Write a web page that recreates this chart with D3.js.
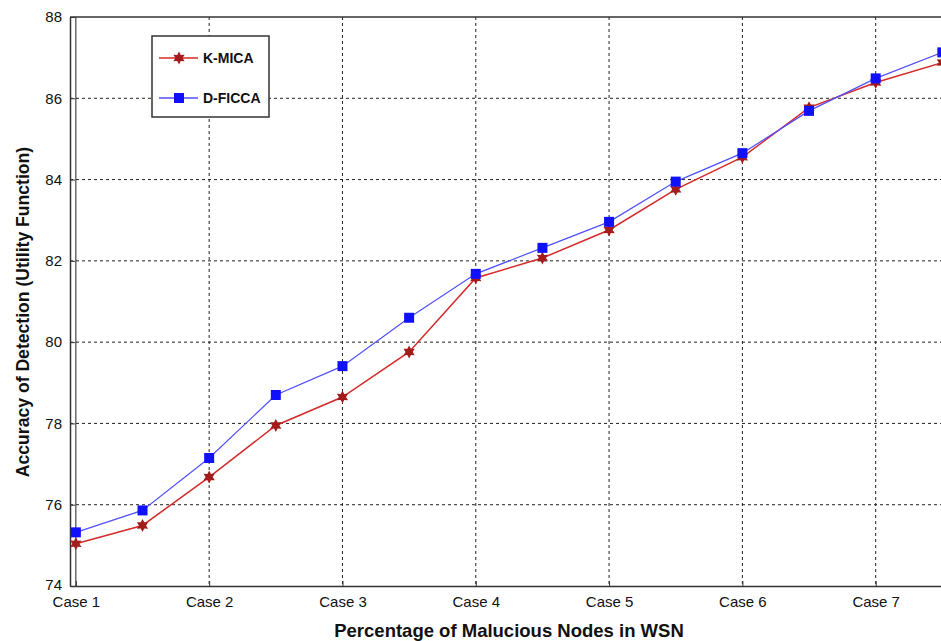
<!DOCTYPE html>
<html>
<head>
<meta charset="utf-8">
<script src="https://cdn.jsdelivr.net/npm/d3@7"></script>
<style>
  body { margin: 0; background: #fff; }
  svg { display: block; font-family: "Liberation Sans", Arial, sans-serif; }
</style>
</head>
<body>
<div id="chart"></div>
<script>
var cases = [1, 1.5, 2, 2.5, 3, 3.5, 4, 4.5, 5, 5.5, 6, 6.5, 7, 7.5];
var kmica = [75.04, 75.49, 76.68, 77.95, 78.65, 79.76, 81.58, 82.07, 82.76, 83.76, 84.55, 85.77, 86.39, 86.88];
var dficca = [75.32, 75.86, 77.15, 78.70, 79.41, 80.60, 81.68, 82.32, 82.96, 83.95, 84.65, 85.69, 86.49, 87.13];
var xTicks = [1, 2, 3, 4, 5, 6, 7];
var xTickLabels = ["Case 1", "Case 2", "Case 3", "Case 4", "Case 5", "Case 6", "Case 7"];
var yTicks = [74, 76, 78, 80, 82, 84, 86, 88];

var width = 941,
  height = 641,
  margin = {left: 70, right: -4, top: 17, bottom: 55},
  svg = d3.select("#chart")
    .append("svg")
    .attr("width", width)
    .attr("height", height),
  chart = svg.append("g")
    .attr("transform", "translate(" + margin.left + "," + margin.top + ")"),
  w = width - margin.left - margin.right,
  h = height - margin.top - margin.bottom;

// x runs a bit before Case 1, right end is cut by the picture
var xScale = d3.scaleLinear().domain([0.956, 7.52]).range([0, w]),
  yScale = d3.scaleLinear().domain([74, 88]).range([h, 0]);

// grid
chart.append("g").selectAll("line")
  .data(yTicks.slice(1, -1))
  .enter().append("line")
  .attr("x1", 0).attr("x2", w)
  .attr("y1", function (d) { return yScale(d); })
  .attr("y2", function (d) { return yScale(d); })
  .attr("stroke", "#222").attr("stroke-width", 1)
  .attr("stroke-dasharray", "3,3");

chart.append("g").selectAll("line")
  .data(xTicks)
  .enter().append("line")
  .attr("y1", 0).attr("y2", h)
  .attr("x1", function (d) { return xScale(d); })
  .attr("x2", function (d) { return xScale(d); })
  .attr("stroke", "#222").attr("stroke-width", 1)
  .attr("stroke-dasharray", function (d) { return d == 1 ? null : "3,3"; });

// axes
var xAxis = chart.append("g")
  .attr("transform", "translate(0," + h + ")")
  .call(d3.axisBottom(xScale).tickValues(xTicks)
    .tickFormat(function (d, i) { return xTickLabels[i]; })
    .tickSizeInner(-5).tickSizeOuter(0).tickPadding(10));
var yAxis = chart.append("g")
  .call(d3.axisLeft(yScale).tickValues(yTicks)
    .tickSizeInner(-5).tickSizeOuter(0).tickPadding(8));

[xAxis, yAxis].forEach(function (a) {
  a.select(".domain").attr("stroke", "#333").attr("stroke-width", 1.5);
  a.selectAll(".tick line").attr("stroke", "#333");
  a.selectAll("text").attr("font-size", 15).attr("fill", "#111")
    .attr("font-family", "Liberation Sans, Arial, sans-serif");
});
// lowest y label sits a touch higher so it clears "Case 1"
yAxis.selectAll(".tick text").filter(function (d) { return d == 74; }).attr("dy", "0.2em");

// top frame
chart.append("line")
  .attr("x1", 0).attr("x2", w).attr("y1", 0).attr("y2", 0)
  .attr("stroke", "#333").attr("stroke-width", 1.5);

// hexagram marker
function hexagram(r) {
  var pts = [];
  for (var i = 0; i < 12; i++) {
    var a = -Math.PI / 2 + i * Math.PI / 6,
      rr = i % 2 == 0 ? r : r * 0.55;
    pts.push([rr * Math.cos(a), rr * Math.sin(a)]);
  }
  return "M" + pts.join("L") + "Z";
}

var line = d3.line()
  .x(function (d) { return xScale(d[0]); })
  .y(function (d) { return yScale(d[1]); });

var series = [
  {name: "K-MICA", values: kmica, line: "#d42a2a", mark: "#a31c1c", star: true},
  {name: "D-FICCA", values: dficca, line: "#5050ff", mark: "#1010ff", star: false}
];

series.forEach(function (s) {
  var pts = cases.map(function (c, i) { return [c, s.values[i]]; });
  chart.append("path")
    .datum(pts)
    .attr("d", line)
    .attr("fill", "none")
    .attr("stroke", s.line)
    .attr("stroke-width", s.star ? 1.5 : 1.2);

  var m = chart.append("g").selectAll("path")
    .data(pts)
    .enter().append("path")
    .attr("transform", function (d) { return "translate(" + xScale(d[0]) + "," + yScale(d[1]) + ")"; })
    .attr("fill", s.mark);
  if (s.star) m.attr("d", hexagram(6.5));
  else m.attr("d", "M-5,-5L5,-5L5,5L-5,5Z");
});

// legend
var legend = svg.append("g").attr("transform", "translate(152,36)");
legend.append("rect")
  .attr("width", 117).attr("height", 81)
  .attr("fill", "#fff").attr("stroke", "#333").attr("stroke-width", 1.5);
series.forEach(function (s, i) {
  var y = 22 + i * 40;
  legend.append("line")
    .attr("x1", 7).attr("x2", 46).attr("y1", y).attr("y2", y)
    .attr("stroke", s.line).attr("stroke-width", 1.5);
  var mk = legend.append("path")
    .attr("transform", "translate(27," + y + ")")
    .attr("fill", s.mark);
  if (s.star) mk.attr("d", hexagram(6.5));
  else mk.attr("d", "M-5,-5L5,-5L5,5L-5,5Z");
  legend.append("text")
    .attr("x", 51).attr("y", y + 5)
    .attr("font-size", 14).attr("font-weight", "bold").attr("fill", "#111")
    .text(s.name);
});

// axis titles
svg.append("text")
  .attr("x", 509).attr("y", 637)
  .attr("text-anchor", "middle")
  .attr("font-size", 18.5).attr("font-weight", "bold").attr("fill", "#111")
  .text("Percentage of Malucious Nodes in WSN");

svg.append("text")
  .attr("transform", "translate(29,312) rotate(-90)")
  .attr("text-anchor", "middle")
  .attr("font-size", 17.6).attr("font-weight", "bold").attr("fill", "#111")
  .text("Accuracy of Detection (Utility Function)");
</script>
</body>
</html>
